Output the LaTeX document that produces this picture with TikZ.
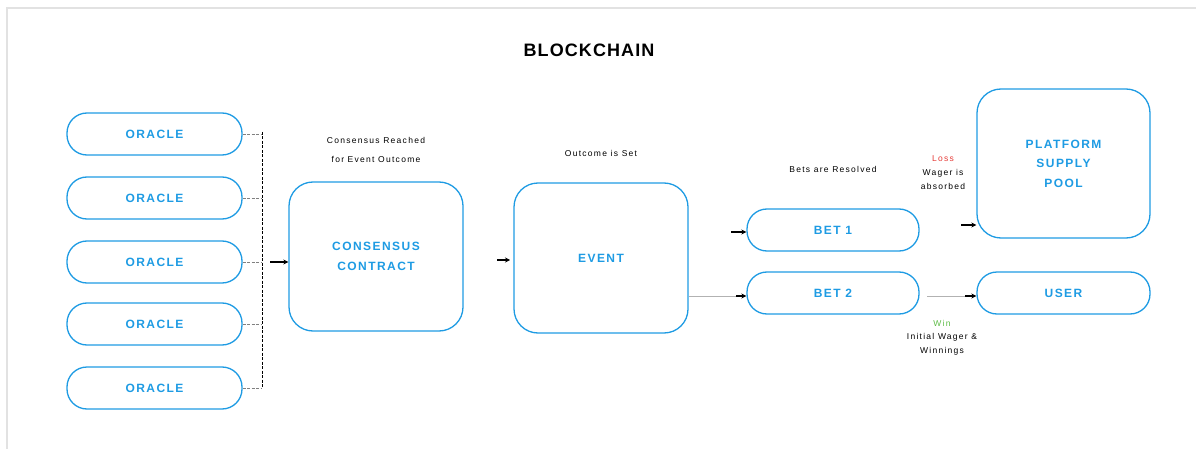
\documentclass[tikz,border=0pt]{standalone}
\usepackage{fontspec}
\setmainfont{Liberation Sans}
\newfontfamily\boxfont[LetterSpace=12]{Liberation Sans}
\newfontfamily\lblfont[LetterSpace=15]{Liberation Sans}
\newfontfamily\titlefont[LetterSpace=6]{Liberation Sans}
\usetikzlibrary{arrows.meta}
\definecolor{bblue}{HTML}{1E9BE3}
\definecolor{frame}{HTML}{E2E2E2}
\definecolor{lossred}{HTML}{E53935}
\definecolor{wingreen}{HTML}{5DBB46}
\tikzset{
  pill/.style={draw=bblue, line width=1.3pt, rounded corners=20pt, minimum width=175pt, minimum height=42pt, text=bblue, font=\boxfont\bfseries\fontsize{12}{19}\selectfont, align=center, inner sep=0pt},
  bigbox/.style={draw=bblue, line width=1.3pt, rounded corners=24pt, minimum width=174pt, minimum height=149pt, text=bblue, font=\boxfont\bfseries\fontsize{12}{19.5}\selectfont, align=center, inner sep=0pt},
  lbl/.style={font=\lblfont\fontsize{8.5}{19}\selectfont, align=center, text=black},
  smlbl/.style={font=\lblfont\fontsize{8.5}{14}\selectfont, align=center, text=black},
  dashline/.style={dashed, line width=0.9pt, dash pattern=on 3pt off 1.5pt},
  stub/.style={dashed, line width=0.6pt, draw=gray, dash pattern=on 3pt off 1.5pt},
  shortarr/.style={-{Stealth[length=5pt,width=5pt]}, line width=1.4pt},
}
\begin{document}
\begin{tikzpicture}[x=1pt,y=-1pt]
\useasboundingbox (0,0) rectangle (1196,449);
% frame
\draw[frame, line width=1.5pt] (7,449) -- (7,8) -- (1196,8);
% title
\node[font=\titlefont\bfseries\fontsize{18}{20}\selectfont] (title) at (589,50) {BLOCKCHAIN};
% oracles
\node[pill] (o1) at (154.5,134) {ORACLE};
\node[pill] (o2) at (154.5,198) {ORACLE};
\node[pill] (o3) at (154.5,262) {ORACLE};
\node[pill] (o4) at (154.5,324) {ORACLE};
\node[pill] (o5) at (154.5,388) {ORACLE};
% bus
\coordinate (bt) at (262,132);
\coordinate (bb) at (262,388);
\draw[dashline] (bt) -- (bb);
\foreach \i in {1,...,5} {
  \draw[stub] (o\i.east) -- (o\i.east -| bt);
}
% consensus
\node[bigbox, minimum height=149pt] (cc) at (376,256.5) {CONSENSUS\\CONTRACT};
\node[lbl] (lcc) at (376,149.5) {Consensus Reached\\for Event Outcome};
\coordinate (ca) at (270,262);
\draw[shortarr] (ca) -- (ca -| cc.west);
% event
\node[bigbox, minimum height=150pt] (ev) at (601,258) {EVENT};
\node[lbl] (lev) at (601,153) {Outcome is Set};
\coordinate (ea) at (497,260);
\draw[shortarr] (ea) -- (510,260);
% bets
\node[pill, minimum width=172pt] (b1) at (833,230) {BET 1};
\node[pill, minimum width=172pt] (b2) at (833,293) {BET 2};
\node[lbl] (lb) at (833,169) {Bets are Resolved};
\coordinate (ba) at (731,232);
\draw[shortarr] (ba) -- (ba -| b1.west);
\draw[line width=0.5pt, draw=gray!60] (ev.east |- 0,296) -- (737,296);
\draw[shortarr] (736,296) -- (b2.west |- 0,296);
% pool
\node[bigbox, minimum width=173pt, minimum height=149pt] (pool) at (1063.5,163.5) {PLATFORM\\SUPPLY\\POOL};
\node[smlbl, text=lossred] (loss) at (943,159) {Loss};
\node[smlbl] (lloss) at (943,179) {Wager is\\absorbed};
\coordinate (pa) at (961,225);
\draw[shortarr] (pa) -- (pa -| pool.west);
% user
\node[pill, minimum width=173pt] (user) at (1063.5,293) {USER};
\draw[line width=0.5pt, draw=gray!60] (927,296) -- (966,296);
\draw[shortarr] (965,296) -- (user.west |- 0,296);
\node[smlbl, text=wingreen] (win) at (942,323) {Win};
\node[smlbl] (lwin) at (942,344.5) {Initial Wager \&\\Winnings};
\end{tikzpicture}
\end{document}
